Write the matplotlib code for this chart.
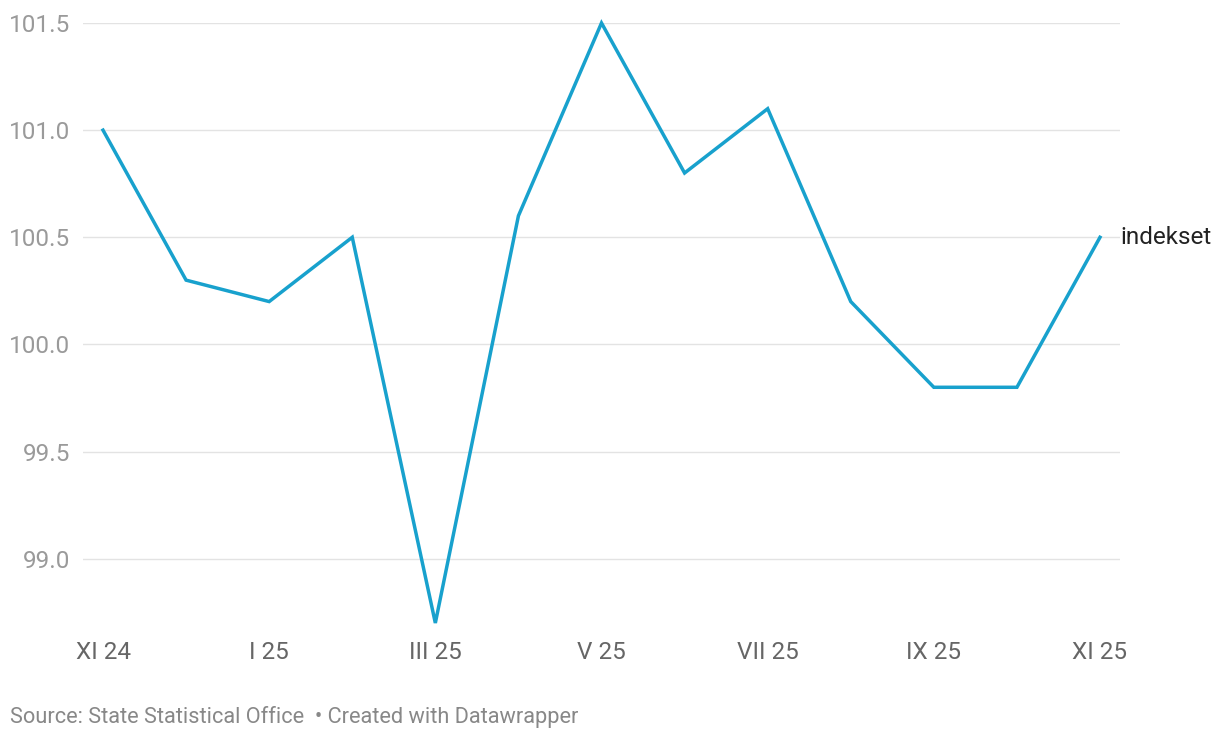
import numpy as np
from matplotlib import pyplot as plt

plt.rcParams['font.family'] = ['Roboto', 'DejaVu Sans']

months = ["XI 24", "XII 24", "I 25", "II 25", "III 25", "IV 25", "V 25",
          "VI 25", "VII 25", "VIII 25", "IX 25", "X 25", "XI 25"]
values = [101.0, 100.3, 100.2, 100.5, 98.7, 100.6, 101.5,
          100.8, 101.1, 100.2, 99.8, 99.8, 100.5]
y_ticks = [99.0, 99.5, 100.0, 100.5, 101.0, 101.5]
series_name = "indekset"

fig = plt.figure(figsize=(12.2, 7.4), dpi=100)
ax = fig.add_axes([83/1220, 1 - 623/740, (1120 - 83)/1220, 600/740])

x = np.arange(len(months))
ax.plot(x, values, color='#18a1cd', lw=2.5, solid_joinstyle='miter', clip_on=False, zorder=3)

ax.set_ylim(98.7, 101.5)
step = (1100 - 103) / 12
ax.set_xlim(-20/step, 12 + 20/step)

ax.set_yticks(y_ticks)
ax.set_yticklabels([f"{v:.1f}" for v in y_ticks])
ax.grid(axis='y', color='#e3e3e3', lw=1)
ax.set_axisbelow(True)

ax.set_xticks(x[::2])
ax.set_xticklabels(months[::2])

for s in ax.spines.values():
    s.set_visible(False)
ax.tick_params(axis='y', length=0, pad=9.5, labelsize=17.5, labelcolor='#9a9a9a')
ax.tick_params(axis='x', length=0, pad=13, labelsize=17.5, labelcolor='#666666')

ax.annotate(series_name, (x[-1], values[-1]), xytext=(14.4, 0), textcoords='offset points',
            ha='left', va='center', fontsize=17.5, color='#222222')

fig.text(10/1220, 1 - 717/740, "Source: State Statistical Office  • Created with Datawrapper",
         ha='left', va='center', fontsize=15.7, color='#888888')

fig.savefig('out.png', dpi=100)
